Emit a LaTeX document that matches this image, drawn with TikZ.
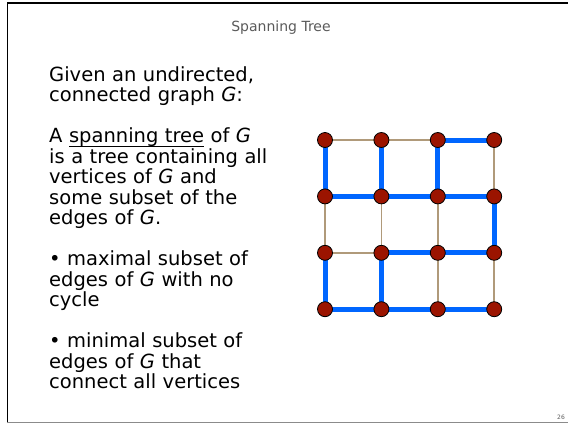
\documentclass[tikz,border=0pt]{standalone}
\usepackage{fontspec}
\setmainfont{DejaVu Sans}
\usetikzlibrary{backgrounds}
\definecolor{sptblue}{RGB}{0, 102, 255}
\definecolor{spttan}{RGB}{176, 154, 122}
\definecolor{sptred}{RGB}{155, 20, 0}
\definecolor{sptgray}{RGB}{90, 90, 90}

\newcommand{\spanul}[1]{\setbox0\hbox{#1}\rlap{\rule[-4pt]{\wd0}{0.9pt}}\box0\relax}

\tikzset{
  vertex/.style={circle, draw=black, fill=sptred, line width=0.8pt, minimum size=15pt, inner sep=0pt},
  treeedge/.style={sptblue, line width=5pt},
  graphedge/.style={spttan, line width=1.5pt},
}

\begin{document}
\begin{tikzpicture}[x=1pt, y=-1pt]
\useasboundingbox (0,0) rectangle (568,424);

% === Marco de la diapositiva ===
\draw[line width=1.6pt] (7.3,423) -- (7.3,2.7) -- (568,2.7);
\draw[sptgray!70, line width=1.4pt] (7.3,422.7) -- (568,422.7);

% Titulo y numero
\node[font=\fontsize{14}{16}\selectfont, text=sptgray, anchor=base] (title) at (281,31) {Spanning Tree};
\node[font=\fontsize{6}{7}\selectfont, text=sptgray] (pagenum) at (561,417) {26};

% === Texto ===
\node[anchor=base west, inner sep=0pt, text width=270pt, align=left,
      font=\fontsize{19.5}{20.5}\selectfont] (body) at (49,81) {
  Given an undirected,\\
  connected graph \textit{G}:\\[20.5pt]
  A \spanul{spanning tree} of \textit{G}\\
  is a tree containing all\\
  vertices of \textit{G} and\\
  some subset of the\\
  edges of \textit{G}.\\[20.5pt]
  • maximal subset of\\
  edges of \textit{G} with no\\
  cycle\\[20.5pt]
  • minimal subset of\\
  edges of \textit{G} that\\
  connect all vertices
};

% === Grafo en grilla ===
\foreach \c in {1,2,3,4} {
  \foreach \r in {1,2,3,4} {
    \node[vertex] (v\c\r) at ({325+56.4*(\c-1)}, {140+56.4*(\r-1)}) {};
  }
}

\begin{scope}[on background layer]
  % Aristas que no estan en el arbol
  \foreach \a/\b in {v11/v21, v21/v31, v13/v23, v41/v42, v12/v13, v22/v23, v32/v33, v33/v34, v43/v44} {
    \draw[graphedge] (\a.center) -- (\b.center);
  }
  % Aristas del arbol generador
  \foreach \a/\b in {v31/v41, v12/v22, v22/v32, v32/v42, v23/v33, v33/v43, v14/v24, v24/v34, v34/v44,
                     v11/v12, v21/v22, v31/v32, v42/v43, v13/v14, v23/v24} {
    \draw[treeedge] (\a.center) -- (\b.center);
  }
\end{scope}

\end{tikzpicture}
\end{document}
